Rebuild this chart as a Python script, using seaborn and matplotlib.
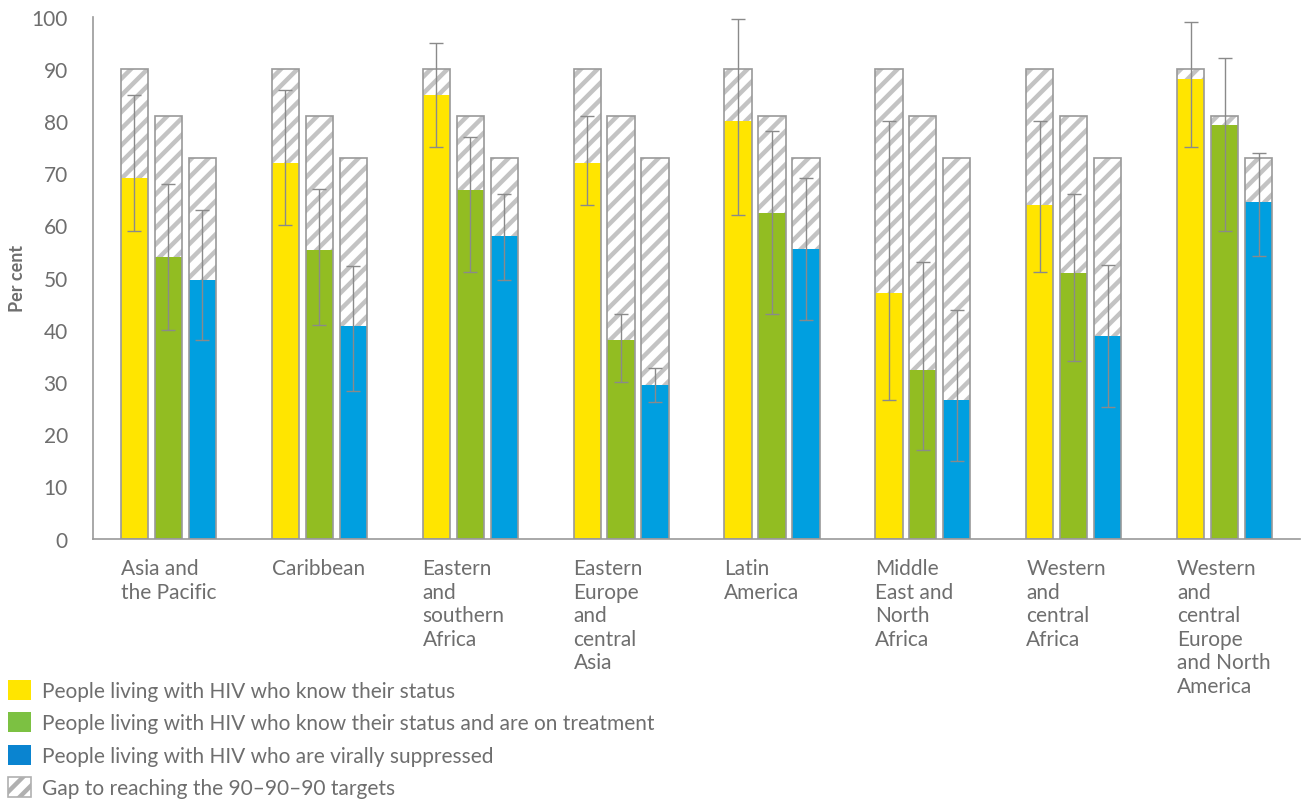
# 90-90-90 progress by region, with gap to targets
import numpy as np
import pandas as pd
import matplotlib
matplotlib.use('Agg')
import matplotlib.pyplot as plt
from matplotlib.patches import Patch
import seaborn as sns

regions = ['Asia and\nthe Pacific', 'Caribbean', 'Eastern\nand\nsouthern\nAfrica',
           'Eastern\nEurope\nand\ncentral\nAsia', 'Latin\nAmerica',
           'Middle\nEast and\nNorth\nAfrica', 'Western\nand\ncentral\nAfrica',
           'Western\nand\ncentral\nEurope\nand North\nAmerica']
series = ['know status', 'on treatment', 'virally suppressed']
targets = [90, 81, 73]

know = [69, 72, 85, 72, 80, 47, 64, 88]
know_lo = [59, 60, 75, 64, 62, 26.5, 51, 75]
know_hi = [85, 86, 95, 81, 99.5, 80, 80, 99]

treat = [54, 55.3, 66.7, 38, 62.3, 32.4, 50.8, 79.3]
treat_lo = [40, 41, 51, 30, 43, 17, 34, 59]
treat_hi = [68, 67, 77, 43, 78, 53, 66, 92]

supp = [49.5, 40.7, 58, 29.4, 55.5, 26.6, 38.8, 64.4]
supp_lo = [38, 28.2, 49.6, 26.2, 41.8, 14.8, 25.3, 54.2]
supp_hi = [63, 52.2, 66, 32.6, 69, 43.8, 52.5, 73.8]

legend_labels = ['People living with HIV who know their status',
                 'People living with HIV who know their status and are on treatment',
                 'People living with HIV who are virally suppressed',
                 'Gap to reaching the 90\u201390\u201390 targets']

bar_colors = ['#ffe500', '#92bd22', '#009fe0']
legend_colors = ['#ffe500', '#7cc142', '#0a84d0']
txt = '#6e6e6e'
line_grey = '#999999'

# build long table, series-major so patch order matches rows
rows = []
for s, t, v, lo, hi in zip(series, targets, [know, treat, supp],
                           [know_lo, treat_lo, supp_lo], [know_hi, treat_hi, supp_hi]):
    for r, vv, l, h in zip(regions, v, lo, hi):
        rows.append({'region': r, 'series': s, 'target': t, 'value': vv, 'lo': l, 'hi': h})
df = pd.DataFrame(rows)

sns.set_style('white')
plt.rcParams['font.family'] = ['Lato', 'DejaVu Sans']
plt.rcParams['hatch.linewidth'] = 3.2

fig = plt.figure(figsize=(13.08, 8.03), dpi=100)
ax = fig.add_axes([0.071, 0.328, 0.923, 0.65])

common = dict(data=df, x='region', hue='series', order=regions, hue_order=series,
              width=0.675, gap=0.2, legend=False, errorbar=None, saturation=1, ax=ax)

# hatched target bars behind
sns.barplot(y='target', palette=['white'] * 3, hatch='//', edgecolor='#c3c3c3',
            linewidth=0, **common)
# achieved values
n0 = len(ax.patches)
sns.barplot(y='value', palette=bar_colors, linewidth=0, **common)
value_patches = ax.patches[n0:]
# outlines of the target bars
sns.barplot(y='target', palette=[line_grey] * 3, fill=False, linewidth=1.2, **common)

# uncertainty ranges
xs = [p.get_x() + p.get_width() / 2 for p in value_patches]
ax.errorbar(xs, df['value'], yerr=[df['value'] - df['lo'], df['hi'] - df['value']],
            fmt='none', ecolor='#8a8a8a', elinewidth=1, capsize=5, capthick=1, zorder=5)

ax.set_ylim(0, 100)
ax.set_xlim(-0.5, 7.5)
ax.set_yticks(range(0, 101, 10))
ax.set_xticks(np.arange(len(regions)) - 0.315)
ax.set_xticklabels(regions, ha='left', va='top', linespacing=1.22)
ax.tick_params(axis='both', length=0, labelsize=15, labelcolor=txt)
ax.tick_params(axis='x', pad=14)
ax.tick_params(axis='y', pad=18)
ax.set_xlabel('')
ax.set_ylabel('Per cent', fontsize=13, fontweight='bold', color=txt, labelpad=4)
sns.despine(ax=ax)
for side in ['left', 'bottom']:
    ax.spines[side].set_color(line_grey)
    ax.spines[side].set_linewidth(1.2)

handles = [Patch(facecolor=c, edgecolor='none') for c in legend_colors]
handles.append(Patch(facecolor='white', edgecolor='#b0b0b0', hatch='//', linewidth=1.2))
fig.legend(handles, legend_labels, loc='lower left', bbox_to_anchor=(0.0, -0.006),
           frameon=False, fontsize=15, labelcolor=txt, handlelength=1.1,
           handleheight=1.1, handletextpad=0.5, labelspacing=0.55, borderaxespad=0)

plt.savefig('out.png', dpi=100)
